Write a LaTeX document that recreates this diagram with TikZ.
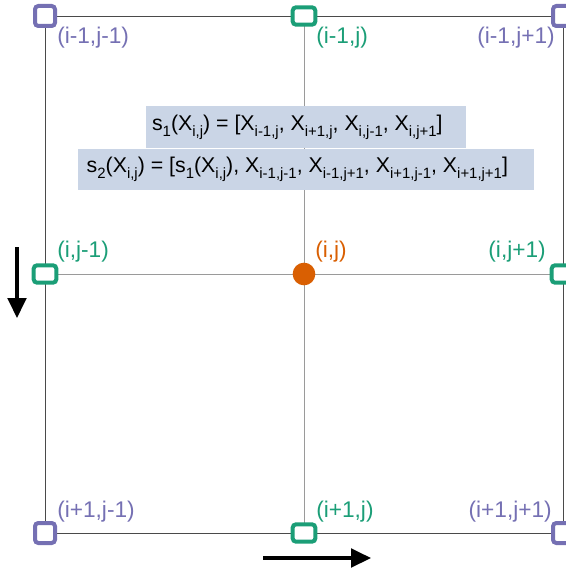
\documentclass[tikz,border=0pt]{standalone}
\usepackage{fontspec}
\setmainfont{Liberation Sans}
\usetikzlibrary{arrows.meta}
\definecolor{GridPurple}{HTML}{7570B3}
\definecolor{GridGreen}{HTML}{1B9E77}
\definecolor{GridOrange}{HTML}{D95F02}
\definecolor{GridBox}{HTML}{CAD5E6}
\definecolor{GridLine}{HTML}{9A9A9A}
\definecolor{GridFrame}{HTML}{4A4A4A}
\newcommand{\lowidx}[1]{\raisebox{-0.55ex}{\fontsize{11.2pt}{12pt}\selectfont #1}}
\begin{document}
\begin{tikzpicture}[x=0.75pt,y=-0.75pt,
  corner/.style={draw=GridPurple,fill=white,line width=3pt,rounded corners=2.5pt,minimum width=15pt,minimum height=15pt,inner sep=0pt},
  edge/.style={draw=GridGreen,fill=white,line width=3pt,rounded corners=2.5pt,minimum width=17pt,minimum height=13pt,inner sep=0pt},
  centre/.style={circle,fill=GridOrange,minimum size=17pt,inner sep=0pt},
  lab/.style={inner sep=0pt,font=\fontsize{17pt}{19pt}\selectfont},
  formula/.style={fill=GridBox,inner sep=0pt,font=\fontsize{16pt}{18pt}\selectfont},
  bigarrow/.style={line width=2.6pt,-{Triangle[length=15pt,width=14pt]}}]
\useasboundingbox (0,0) rectangle (566,574);
\clip (0,0) rectangle (566,574);
% grid points
\coordinate (tl) at (45,16);
\coordinate (tm) at (304,16);
\coordinate (tr) at (563,16);
\coordinate (ml) at (45,274);
\coordinate (mm) at (304,274);
\coordinate (mr) at (563,274);
\coordinate (bl) at (45,533);
\coordinate (bm) at (304,533);
\coordinate (br) at (563,533);
% lines
\draw[GridLine,line width=.6pt] (tm) -- (bm);
\draw[GridLine,line width=.6pt] (ml) -- (mr);
\draw[GridFrame,line width=.6pt] (tl) -- (tr) -- (br) -- (bl) -- cycle;
% formulas
\node[formula,minimum width=240pt,minimum height=31.5pt] (sone) at (306,127)
  {s\lowidx{1}(X\lowidx{i,j}) = [X\lowidx{i-1,j}, X\lowidx{i+1,j}, X\lowidx{i,j-1}, X\lowidx{i,j+1}]\hspace*{13pt}};
\node[formula,minimum width=342pt,minimum height=31pt] (stwo) at (306,169.5)
  {s\lowidx{2}(X\lowidx{i,j}) = [s\lowidx{1}(X\lowidx{i,j}), X\lowidx{i-1,j-1}, X\lowidx{i-1,j+1}, X\lowidx{i+1,j-1}, X\lowidx{i+1,j+1}]\hspace*{13pt}};
% markers
\node[corner] (ptl) at (tl) {};
\node[edge] (ptm) at (tm) {};
\node[corner] (ptr) at (tr) {};
\node[edge] (pml) at (ml) {};
\node[centre] (pmm) at (mm) {};
\node[edge] (pmr) at (mr) {};
\node[corner] (pbl) at (bl) {};
\node[edge] (pbm) at (bm) {};
\node[corner] (pbr) at (br) {};
% labels
\node[lab,GridPurple,anchor=west] (ltl) at (57,38) {(i-1,j-1)};
\node[lab,GridGreen,anchor=west] (ltm) at (316,38) {(i-1,j)};
\node[lab,GridPurple,anchor=east] (ltr) at (555,38) {(i-1,j+1)};
\node[lab,GridGreen,anchor=west] (lml) at (57,252) {(i,j-1)};
\node[lab,GridOrange,anchor=west] (lmm) at (315,252) {(i,j)};
\node[lab,GridGreen,anchor=east] (lmr) at (546,252) {(i,j+1)};
\node[lab,GridPurple,anchor=west] (lbl) at (57,512) {(i+1,j-1)};
\node[lab,GridGreen,anchor=west] (lbm) at (316,512) {(i+1,j)};
\node[lab,GridPurple,anchor=east] (lbr) at (552,512) {(i+1,j+1)};
% direction arrows
\coordinate (downa) at (17,247);
\coordinate (downb) at (17,318);
\coordinate (righta) at (263,558);
\coordinate (rightb) at (371,558);
\draw[bigarrow] (downa) -- (downb);
\draw[bigarrow] (righta) -- (rightb);
\end{tikzpicture}
\end{document}
